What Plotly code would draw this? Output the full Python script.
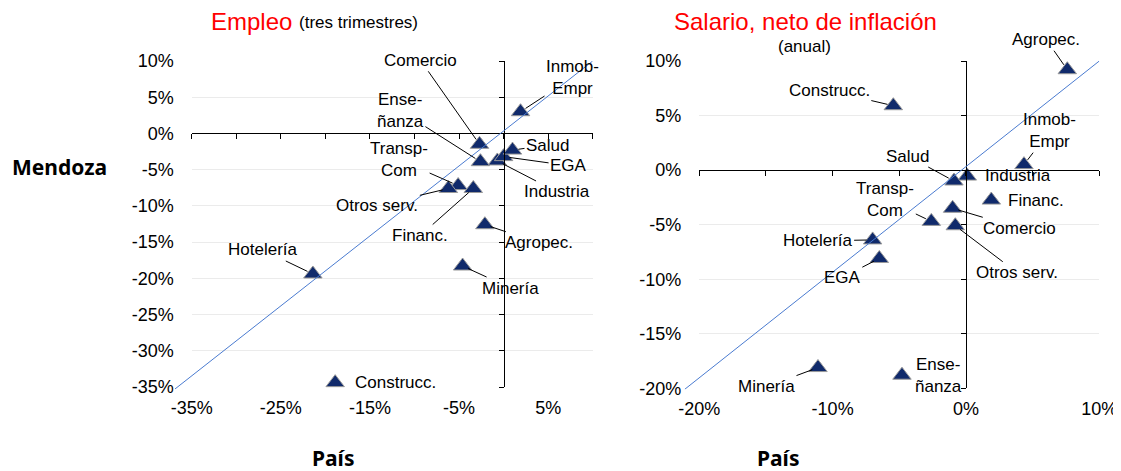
import plotly.graph_objects as go

# page body has an 8px margin: figure is sized to fill the rest of the 1121x471 window
OFF = 8
W, H = 1121 - OFF, 471 - OFF

sectors = ["Agropec.", "Minería", "Industria", "EGA", "Construcc.", "Comercio", "Hotelería",
           "Transp-Com", "Financ.", "Inmob-Empr", "Enseñanza", "Salud", "Otros serv."]
label_text = {"Inmob-Empr": "Inmob-<br>Empr", "Enseñanza": "Ense-<br>ñanza", "Transp-Com": "Transp-<br>Com"}

# Empleo (tres trimestres): País (x) vs Mendoza (y), %
emp_pais = [-2.1, -4.6, -0.7, 0.0, -18.9, -2.7, -21.4, -5.1, -3.4, 1.9, -2.6, 1.0, -6.2]
emp_mza = [-12.6, -18.3, -3.8, -3.2, -34.4, -1.5, -19.4, -7.2, -7.6, 3.0, -3.9, -2.3, -7.6]

# Salario neto de inflación (anual): País (x) vs Mendoza (y), %
sal_pais = [7.6, -11.1, 0.1, -6.5, -5.45, -1.0, -7.0, -2.6, 1.9, 4.35, -4.8, -0.9, -0.8]
sal_mza = [9.2, -18.1, -0.55, -8.1, 5.9, -3.5, -6.4, -4.7, -2.75, 0.5, -18.8, -1.0, -5.1]

# 45-degree reference lines (as drawn, slightly extending left of the plot)
emp_diag_x = [-36.9, 10]
emp_diag_y = [-35.3, 10]
sal_diag_x = [-21.1, 10]
sal_diag_y = [-20.1, 10]

# label offsets in pixels (dx, dy, leader line)
emp_lab = [(54, 18, 1), (48, 22, 1), (60, 31, 1), (65, 9, 1), (60, 0, 0), (-59, -84, 1), (-50, -24, 1),
           (-59, -26, 1), (-53, 47, 1), (52, -34, 1), (-80, -51, 1), (35, -5, 1), (-71, 17, 1)]
sal_lab = [(-21, -30, 1), (-51, 19, 1), (51, -1, 0), (-37, 19, 1), (-64, -15, 1), (67, 20, 1), (-55, 1, 1),
           (-46, -22, 1), (45, 0, 0), (26, -34, 1), (37, 0, 0), (-46, -25, 1), (62, 47, 1)]

emp_range = [-35, 10]
sal_range = [-20, 10]
emp_xticks = [-35, -25, -15, -5, 5]
sal_xticks = [-20, -10, 0, 10]
emp_ticks5 = list(range(-35, 11, 5))
sal_ticks5 = list(range(-20, 11, 5))


def pct(vals):
    return [f"{v}%" for v in vals]


def fx(p):
    return (p - OFF) / W


def fy(p):
    return 1 - (p - OFF) / H


FONT = "Liberation Sans, Arial, sans-serif"
NAVY = "#102a6b"
LINE = "#4a7bd0"

# domains (window pixels -> paper)
L_x = [fx(191.7), fx(592.7)]
L_y = [fy(387), fy(61)]
R_x = [fx(699.3), fx(1099.3)]
R_y = [fy(388.3), fy(61)]
# same scale as the main axes, widened so the reference line is not clipped
L_px_per = (L_x[1] - L_x[0]) / (emp_range[1] - emp_range[0])
L_py_per = (L_y[1] - L_y[0]) / (emp_range[1] - emp_range[0])
R_px_per = (R_x[1] - R_x[0]) / (sal_range[1] - sal_range[0])
R_py_per = (R_y[1] - R_y[0]) / (sal_range[1] - sal_range[0])
LD_x = [L_x[1] - (emp_range[1] - emp_diag_x[0]) * L_px_per, L_x[1]]
LD_y = [L_y[1] - (emp_range[1] - emp_diag_y[0]) * L_py_per, L_y[1]]
RD_x = [R_x[1] - (sal_range[1] - sal_diag_x[0]) * R_px_per, R_x[1]]
RD_y = [R_y[1] - (sal_range[1] - sal_diag_y[0]) * R_py_per, R_y[1]]


def zero_pos(dom, rng):
    return dom[0] + (0 - rng[0]) / (rng[1] - rng[0]) * (dom[1] - dom[0])


fig = go.Figure()

for xa, ya, dx_, dy_ in [("x5", "y5", emp_diag_x, emp_diag_y), ("x6", "y6", sal_diag_x, sal_diag_y)]:
    fig.add_trace(go.Scatter(x=dx_, y=dy_, mode="lines", line=dict(color=LINE, width=1),
                             xaxis=xa, yaxis=ya, showlegend=False, hoverinfo="skip"))

for xa, ya in [("x3", "y3"), ("x4", "y4")]:
    fig.add_trace(go.Scatter(x=[], y=[], mode="lines", xaxis=xa, yaxis=ya, showlegend=False,
                             hoverinfo="skip"))

for xa, ya, px, py in [("x", "y", emp_pais, emp_mza), ("x2", "y2", sal_pais, sal_mza)]:
    fig.add_trace(go.Scatter(x=px, y=py, mode="markers", xaxis=xa, yaxis=ya,
                             marker=dict(symbol="triangle-up", size=16, color=NAVY,
                                         line=dict(color="#9a9a9a", width=1)),
                             text=sectors, showlegend=False, cliponaxis=False))

ann = []
for xs, ys, labs, xr, yr in [(emp_pais, emp_mza, emp_lab, "x", "y"), (sal_pais, sal_mza, sal_lab, "x2", "y2")]:
    for s, xv, yv, (dx, dy, lead) in zip(sectors, xs, ys, labs):
        ann.append(dict(x=xv, y=yv, xref=xr, yref=yr, text=label_text.get(s, s),
                        showarrow=True, ax=dx, ay=dy, arrowhead=0, arrowwidth=1,
                        arrowcolor="black" if lead else "rgba(0,0,0,0)", standoff=6,
                        font=dict(family=FONT, size=17, color="black")))

ann += [
    dict(x=fx(209), y=fy(22), xref="paper", yref="paper", xanchor="left", yanchor="middle",
         text="Empleo", showarrow=False, font=dict(family=FONT, size=24, color="#ff0000")),
    dict(x=fx(297), y=fy(23), xref="paper", yref="paper", xanchor="left", yanchor="middle",
         text="(tres trimestres)", showarrow=False, font=dict(family=FONT, size=17, color="black")),
    dict(x=fx(805), y=fy(22), xref="paper", yref="paper", xanchor="center", yanchor="middle",
         text="Salario, neto de inflación", showarrow=False, font=dict(family=FONT, size=24, color="#ff0000")),
    dict(x=fx(804), y=fy(47), xref="paper", yref="paper", xanchor="center", yanchor="middle",
         text="(anual)", showarrow=False, font=dict(family=FONT, size=17, color="black")),
    dict(x=fx(59), y=fy(167), xref="paper", yref="paper", xanchor="center", yanchor="middle",
         text="<b>Mendoza</b>", showarrow=False, font=dict(family="Noto Sans", size=21, color="black")),
    dict(x=fx(333), y=fy(458), xref="paper", yref="paper", xanchor="center", yanchor="middle",
         text="<b>País</b>", showarrow=False, font=dict(family="Noto Sans", size=21, color="black")),
    dict(x=fx(778), y=fy(458), xref="paper", yref="paper", xanchor="center", yanchor="middle",
         text="<b>País</b>", showarrow=False, font=dict(family="Noto Sans", size=21, color="black")),
]

tickfont = dict(family=FONT, size=18, color="black")
base_x = dict(showgrid=False, zeroline=False, showline=False, ticks="",
              tickfont=tickfont, ticklabelstandoff=8, fixedrange=True, automargin=False)
base_y = dict(showgrid=True, gridcolor="#ebebeb", gridwidth=1, zeroline=False, showline=False,
              ticks="", tickfont=tickfont, ticklabelstandoff=17, fixedrange=True, automargin=False)
ov = dict(showgrid=False, zeroline=False, showline=True, linecolor="black", linewidth=1,
          ticks="outside", ticklen=5, tickcolor="black", tickwidth=1, showticklabels=False,
          anchor="free", fixedrange=True, automargin=False)
hid = dict(visible=False, showgrid=False, zeroline=False, fixedrange=True, automargin=False)

fig.update_layout(
    width=W, height=H, autosize=False, margin=dict(l=0, r=0, t=0, b=0, pad=0, autoexpand=False),
    paper_bgcolor="white", plot_bgcolor="rgba(0,0,0,0)", showlegend=False,
    xaxis=dict(base_x, domain=L_x, range=emp_range, tickvals=emp_xticks, ticktext=pct(emp_xticks), anchor="y"),
    yaxis=dict(base_y, domain=L_y, range=emp_range, tickvals=emp_ticks5, ticktext=pct(emp_ticks5), anchor="x"),
    xaxis2=dict(base_x, domain=R_x, range=sal_range, tickvals=sal_xticks, ticktext=pct(sal_xticks), anchor="y2"),
    yaxis2=dict(base_y, domain=R_y, range=sal_range, tickvals=sal_ticks5, ticktext=pct(sal_ticks5), anchor="x2"),
    xaxis3=dict(ov, overlaying="x", range=emp_range, tickvals=emp_ticks5,
                position=zero_pos(L_y, emp_range)),
    yaxis3=dict(ov, overlaying="y", range=emp_range, tickvals=emp_ticks5,
                position=zero_pos(L_x, emp_range)),
    xaxis4=dict(ov, overlaying="x2", range=sal_range, tickvals=sal_ticks5,
                position=zero_pos(R_y, sal_range)),
    yaxis4=dict(ov, overlaying="y2", range=sal_range, tickvals=sal_ticks5,
                position=zero_pos(R_x, sal_range)),
    xaxis5=dict(hid, domain=LD_x, range=[emp_diag_x[0], emp_range[1]], anchor="y5"),
    yaxis5=dict(hid, domain=LD_y, range=[emp_diag_y[0], emp_range[1]], anchor="x5"),
    xaxis6=dict(hid, domain=RD_x, range=[sal_diag_x[0], sal_range[1]], anchor="y6"),
    yaxis6=dict(hid, domain=RD_y, range=[sal_diag_y[0], sal_range[1]], anchor="x6"),
    annotations=ann,
)

fig.write_html("out.html")
